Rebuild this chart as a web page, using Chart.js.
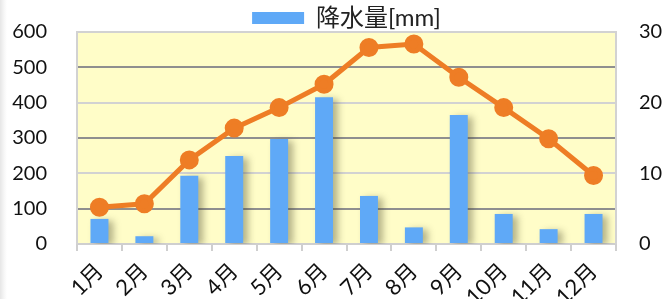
<!DOCTYPE html>
<html>
<head>
<meta charset="utf-8">
<script src="https://cdn.jsdelivr.net/npm/chart.js@4"></script>
<style>
  html, body { margin: 0; padding: 0; background: #fff; }
  body { width: 664px; height: 299px; background: linear-gradient(to right, #e6e6e6 0, #f6f6f6 4px, #fff 7px); }
  #wrap { width: 664px; height: 299px; }
</style>
</head>
<body>
<div id="wrap"><canvas id="chart" width="664" height="299"></canvas></div>
<script>
const months = ["1月", "2月", "3月", "4月", "5月", "6月", "7月", "8月", "9月", "10月", "11月", "12月"];
const rainfall = [71, 22, 193, 249, 297, 415, 136, 47, 365, 85, 42, 85];
const temperature = [5.2, 5.7, 11.9, 16.4, 19.3, 22.6, 27.8, 28.3, 23.6, 19.3, 14.9, 9.7];
const leftTicks = [0, 100, 200, 300, 400, 500, 600];
const rightTicks = [0, 10, 20, 30];

const FONT = "Lato, 'Noto Sans CJK JP', sans-serif";
const LEGEND_HEIGHT = 32;

// plot background + frame + bar shadows, and a fixed legend height
const plotDecor = {
  id: "plotDecor",
  beforeLayout(chart) {
    const lg = chart.legend;
    if (lg && !lg._fixedFit) {
      const fit = lg.fit.bind(lg);
      lg.fit = function () { fit(); this.height = LEGEND_HEIGHT; };
      lg._fixedFit = true;
    }
  },
  beforeDraw(chart) {
    const { ctx, chartArea: a } = chart;
    ctx.save();
    ctx.fillStyle = "#fffdc8";
    ctx.fillRect(a.left, a.top, a.right - a.left, a.bottom - a.top);
    ctx.restore();
  },
  afterDatasetsDraw(chart) {
    const { ctx, chartArea: a } = chart;
    ctx.save();
    ctx.strokeStyle = "#d2d2d2";
    ctx.lineWidth = 2;
    ctx.beginPath();
    ctx.moveTo(a.left, a.bottom);
    ctx.lineTo(a.left, a.top);
    ctx.lineTo(a.right, a.top);
    ctx.lineTo(a.right, a.bottom);
    ctx.stroke();
    ctx.restore();
  },
  beforeDatasetDraw(chart, args) {
    if (args.index !== 1) return;
    const ctx = chart.ctx;
    ctx.save();
    ctx.shadowColor = "rgba(70,70,40,0.4)";
    ctx.shadowBlur = 7;
    ctx.shadowOffsetX = 5;
    ctx.shadowOffsetY = 2;
  },
  afterDatasetDraw(chart, args) {
    if (args.index !== 1) return;
    chart.ctx.restore();
  }
};

new Chart(document.getElementById("chart"), {
  type: "bar",
  data: {
    labels: months,
    datasets: [
      {
        type: "line",
        label: "気温",
        data: temperature,
        yAxisID: "y1",
        borderColor: "#ee7d25",
        backgroundColor: "#ee7d25",
        borderWidth: 5,
        pointRadius: 7,
        pointHoverRadius: 7,
        tension: 0,
        order: 0
      },
      {
        label: "降水量[mm]",
        data: rainfall,
        yAxisID: "y",
        backgroundColor: "#5fa9f7",
        barPercentage: 0.4,
        categoryPercentage: 1,
        order: 1
      }
    ]
  },
  options: {
    responsive: false,
    animation: false,
    layout: { padding: 0 },
    plugins: {
      legend: {
        fullSize: false,
        labels: {
          filter: item => item.datasetIndex === 1,
          boxWidth: 52,
          boxHeight: 12,
          padding: 6,
          color: "#222",
          font: { family: FONT, size: 24 }
        }
      },
      tooltip: { enabled: false }
    },
    scales: {
      x: {
        offset: true,
        grid: { offset: true, drawOnChartArea: false, drawTicks: true, tickLength: 7, color: "#cfcfcf", lineWidth: 2 },
        border: { color: "#cfcfcf", width: 2 },
        ticks: { color: "#111", font: { family: FONT, size: 22 }, minRotation: 45, maxRotation: 45, padding: 7 },
        afterFit: s => { s.height = 55; }
      },
      y: {
        position: "left",
        min: 0,
        max: 600,
        afterBuildTicks: s => { s.ticks = leftTicks.map(v => ({ value: v })); },
        grid: {
          drawTicks: true,
          tickLength: 30,
          tickColor: "rgba(0,0,0,0)",
          lineWidth: 2,
          color: c => (c.tick && c.tick.value % 200 === 100) ? "#8f8f8f" : "#d2d2d2"
        },
        border: { display: false },
        ticks: { color: "#111", font: { family: FONT, size: 20 }, padding: 0 },
        afterFit: s => { s.width = 77; }
      },
      y1: {
        position: "right",
        min: 0,
        max: 30,
        afterBuildTicks: s => { s.ticks = rightTicks.map(v => ({ value: v })); },
        grid: { drawOnChartArea: false, drawTicks: true, tickLength: 23, tickColor: "rgba(0,0,0,0)" },
        border: { display: false },
        ticks: { color: "#111", font: { family: FONT, size: 20 }, padding: 0 },
        afterFit: s => { s.width = 48; }
      }
    }
  },
  plugins: [plotDecor]
});
</script>
</body>
</html>
